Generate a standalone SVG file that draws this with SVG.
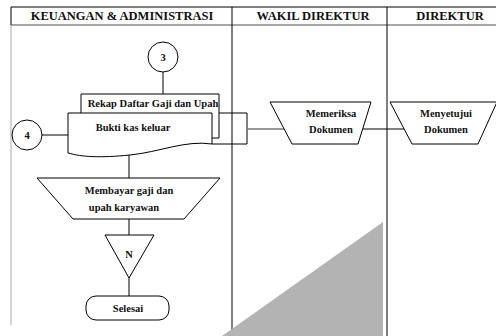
<svg xmlns="http://www.w3.org/2000/svg" width="496" height="336" viewBox="0 0 496 336">
<style>
.s{fill:#fff;stroke:#000;stroke-width:1}
.h{font-family:'Liberation Serif','Times New Roman',Tinos,'DejaVu Serif',serif;font-weight:700;font-size:12.5px;fill:#111;text-anchor:middle}
.t{font-family:'Liberation Serif','Times New Roman',Tinos,'DejaVu Serif',serif;font-weight:700;font-size:10.5px;fill:#111;text-anchor:middle}
.c{fill:none;stroke:#000;stroke-width:1}
.g{fill:none;stroke:#777;stroke-width:1.5}
</style>
<rect width="496" height="336" fill="#fff"/>
<g id="lanes">
<line x1="11" y1="7" x2="496" y2="7" stroke="#000"/>
<line x1="11" y1="25" x2="496" y2="25" stroke="#888" stroke-width="1.5"/>
<line x1="11" y1="7" x2="11" y2="25" stroke="#000"/>
<line x1="11" y1="25" x2="11" y2="325" stroke="#aaa"/>
<line x1="232" y1="7" x2="232" y2="336" stroke="#000"/>
<line x1="387" y1="7" x2="387" y2="336" stroke="#000"/>
<text class="h" x="122" y="20">KEUANGAN &amp; ADMINISTRASI</text>
<text class="h" x="313" y="20">WAKIL DIREKTUR</text>
<text class="h" x="450" y="20">DIREKTUR</text>
</g>
<polygon points="383,222 383,336 222,336" fill="#b3b3b3"/>
<g id="connectors">
<line class="c" x1="163" y1="72" x2="163" y2="94"/>
<path class="c" d="M219,113 H247 V144 H212"/>
<line class="g" x1="247" y1="129" x2="285" y2="129"/>
<line class="c" x1="42" y1="135" x2="68" y2="135"/>
<line class="c" x1="129" y1="155" x2="129" y2="178"/>
<line class="c" x1="129" y1="219" x2="129" y2="235"/>
<line class="c" x1="129" y1="278" x2="129" y2="296"/>
<line class="c" x1="363" y1="129" x2="404" y2="129"/>
</g>
<g id="conn3">
<circle class="s" cx="163" cy="57" r="15"/>
<text class="t" x="163" y="61">3</text>
</g>
<g id="rekap">
<path class="s" d="M81,113 V94 H219 V138 H212"/>
<text class="t" x="153" y="107" font-size="10">Rekap Daftar Gaji dan Upah</text>
</g>
<g id="bukti">
<path class="s" d="M68,113 H212 V144 C185,140 160,152 130,155 C100,158 82,157 68,153 Z"/>
<text class="t" x="133" y="131" font-size="9.8">Bukti kas keluar</text>
</g>
<g id="conn4">
<circle class="s" cx="27" cy="135" r="15"/>
<text class="t" x="27" y="139">4</text>
</g>
<g id="membayar">
<polygon class="s" points="37,178 220,178 184,219 73,219"/>
<text class="t" x="129" y="194" font-size="11.5">Membayar gaji dan</text>
<text class="t" x="124" y="211" font-size="11.5">upah karyawan</text>
</g>
<g id="arsip">
<polygon class="s" points="105,235 154,235 129,278"/>
<text class="t" x="129" y="258">N</text>
</g>
<g id="selesai">
<rect class="s" x="86" y="296" width="83" height="24" rx="10"/>
<text class="t" x="128" y="312">Selesai</text>
</g>
<g id="memeriksa">
<polygon class="s" points="270,102 371,102 358,144 292,144"/>
<text class="t" x="331" y="117">Memeriksa</text>
<text class="t" x="331" y="133">Dokumen</text>
</g>
<g id="menyetujui">
<polygon class="s" points="390,102 497,102 478,144 412,144"/>
<text class="t" x="446" y="117" font-size="11.2">Menyetujui</text>
<text class="t" x="446" y="133" font-size="11.2">Dokumen</text>
</g>
</svg>
